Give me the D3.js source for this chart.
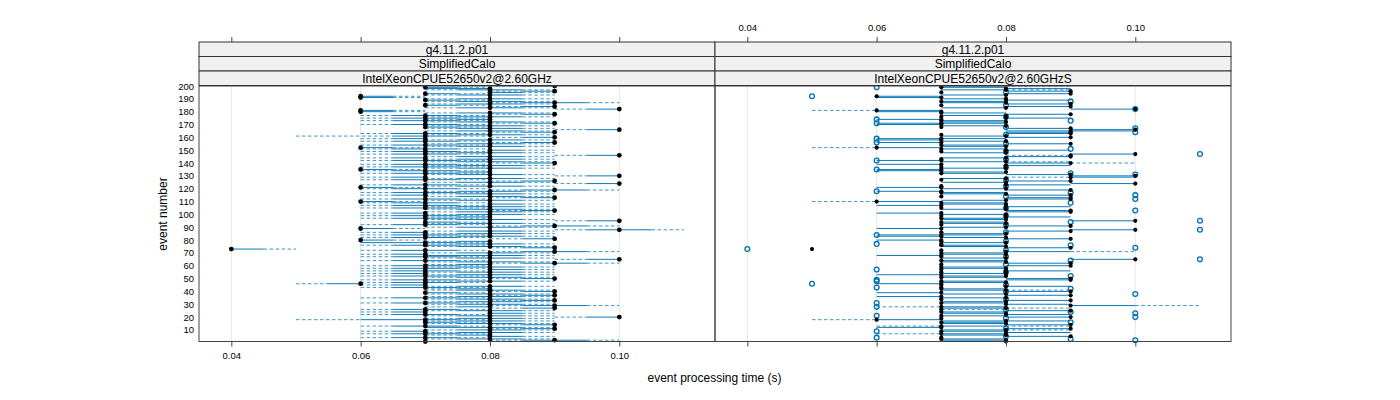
<!DOCTYPE html>
<html><head><meta charset="utf-8">
<script src="https://cdn.jsdelivr.net/npm/d3@7"></script>
<style>body{margin:0;background:#fff}svg{display:block;font-family:"Liberation Sans",Arial,Helvetica,sans-serif}</style>
</head><body><svg id="c" width="1400" height="400"></svg>
<script>
// ---------- data ----------
const stripTop = "g4.11.2.p01";
const stripMid = "SimplifiedCalo";
const panelNames = ["IntelXeonCPUE52650v2@2.60GHz", "IntelXeonCPUE52650v2@2.60GHzS"];
const xTicks = [0.04, 0.06, 0.08, 0.10];
const xTickLabels = ["0.04", "0.06", "0.08", "0.10"];
const yTicks = [10,20,30,40,50,60,70,80,90,100,110,120,130,140,150,160,170,180,190,200];
const xTitle = "event processing time (s)";
const yTitle = "event number";
// per event (1..200), times in ms: [min, lower hinge, median, upper hinge, max]
const leftBox = [
[60,65,70,70,70],[80,85,90,95,100],[70,75,80,85,90],[60,65,70,75,80],[80,80,80,85,90],[70,75,80,80,80],[60,65,70,75,80],[70,75,80,85,90],[60,65,70,70,70],[70,75,80,85,90],
[80,85,90,90,90],[70,70,80,85,90],[60,65,70,75,80],[80,85,90,90,90],[70,75,80,85,90],[70,70,70,75,80],[70,75,80,85,90],[50,60,70,75,80],[70,75,80,85,90],[90,95,100,100,100],
[70,75,80,85,90],[60,65,70,75,80],[80,80,80,85,90],[60,65,70,70,70],[70,75,80,85,90],[60,65,70,75,80],[80,85,90,90,90],[70,75,80,80,80],[80,85,90,95,100],[70,75,80,85,90],
[60,65,70,75,80],[70,75,80,85,90],[80,85,90,90,90],[70,75,80,85,90],[60,65,70,75,80],[70,75,80,85,90],[80,85,90,90,90],[70,75,80,85,90],[70,70,70,75,80],[80,85,90,90,90],
[70,75,80,85,90],[70,75,80,80,80],[60,65,70,75,80],[70,75,80,85,90],[60,65,70,70,70],[50,55,60,60,60],[60,65,70,75,80],[70,75,80,85,90],[60,65,70,75,80],[80,85,90,90,90],
[70,75,80,85,90],[60,65,70,75,80],[70,75,80,85,90],[60,65,70,70,70],[70,75,80,85,90],[60,65,70,75,80],[80,80,80,85,90],[60,65,70,75,80],[70,75,80,85,90],[60,65,70,75,80],
[70,75,80,80,80],[80,85,90,95,100],[70,75,80,85,90],[60,65,70,75,80],[90,95,100,100,100],[70,75,80,85,90],[60,65,70,75,80],[70,70,80,85,90],[60,65,70,70,70],[70,75,80,85,90],
[80,85,90,95,100],[60,65,70,75,80],[40,40,40,45,50],[80,85,90,90,90],[70,75,80,85,90],[60,65,70,75,80],[70,75,80,85,90],[60,60,70,75,80],[70,75,80,80,80],[60,60,60,65,70],
[80,85,90,90,90],[60,65,70,75,80],[70,75,80,85,90],[60,65,70,75,80],[70,75,80,85,90],[60,65,70,70,70],[70,75,80,85,90],[90,95,100,105,110],[60,60,60,65,70],[70,75,80,85,90],
[80,85,90,95,100],[60,65,70,75,80],[70,75,80,85,90],[70,70,70,75,80],[90,95,100,100,100],[70,75,80,85,90],[60,65,70,75,80],[70,75,80,80,80],[60,65,70,75,80],[70,75,80,85,90],
[60,65,70,70,70],[70,75,80,85,90],[80,85,90,90,90],[70,75,80,85,90],[60,65,70,75,80],[70,75,80,85,90],[60,65,70,75,80],[80,80,80,85,90],[60,65,70,75,80],[60,60,60,65,70],
[70,75,80,85,90],[60,65,70,75,80],[80,85,90,90,90],[70,75,80,85,90],[60,65,70,70,70],[70,75,80,85,90],[60,65,70,75,80],[70,75,80,85,90],[80,85,90,95,100],[60,65,70,75,80],
[60,60,60,65,70],[70,75,80,85,90],[60,65,70,75,80],[90,95,100,100,100],[70,75,80,85,90],[80,85,90,90,90],[60,65,70,75,80],[70,75,80,85,90],[60,65,70,70,70],[90,95,100,100,100],
[70,75,80,85,90],[60,65,70,75,80],[70,75,80,80,80],[60,65,70,75,80],[60,60,60,65,70],[70,75,80,85,90],[60,65,70,75,80],[70,75,80,85,90],[60,65,70,75,80],[80,85,90,90,90],
[70,75,80,85,90],[60,65,70,75,80],[70,75,80,85,90],[60,65,70,70,70],[70,75,80,85,90],[90,95,100,100,100],[60,65,70,75,80],[70,75,80,85,90],[60,65,70,75,80],[80,80,80,85,90],
[60,65,70,75,80],[60,60,60,65,70],[70,75,80,85,90],[60,65,70,75,80],[70,75,80,85,90],[80,85,90,90,90],[60,65,70,75,80],[70,75,80,85,90],[60,65,70,70,70],[80,85,90,90,90],
[50,65,70,75,80],[70,75,80,85,90],[60,65,70,75,80],[80,85,90,90,90],[70,75,80,85,90],[90,95,100,100,100],[70,75,80,85,90],[70,70,70,75,80],[70,75,80,85,90],[60,65,70,75,80],
[80,85,90,90,90],[70,75,80,85,90],[60,65,70,75,80],[70,75,80,80,80],[60,65,70,75,80],[70,75,80,85,90],[60,65,70,75,80],[80,85,90,90,90],[70,75,80,85,90],[60,60,60,65,70],
[60,60,60,65,70],[90,95,100,100,100],[70,75,80,85,90],[80,85,90,90,90],[70,70,70,75,80],[70,75,80,85,90],[80,85,90,95,100],[70,75,80,85,90],[70,70,70,75,80],[70,75,80,85,90],
[60,60,60,65,70],[60,60,60,65,70],[70,75,80,85,90],[70,70,70,75,80],[80,80,80,85,90],[80,85,90,90,90],[70,75,80,85,90],[70,70,80,80,80],[70,70,70,75,80],[80,85,90,90,90]
];
const rightBox = [
[80,80,80,90,90],[70,70,80,80,80],[70,70,70,80,80],[70,70,70,70,70],[80,80,90,90,90],[70,70,80,80,80],[60,70,70,80,80],[80,80,80,90,90],[70,70,70,80,80],[70,70,80,80,90],
[80,80,90,90,90],[60,60,70,70,70],[60,70,70,80,90],[80,80,90,90,90],[70,70,80,80,80],[70,70,70,80,80],[70,70,80,90,90],[50,60,60,70,70],[70,70,70,70,70],[80,80,90,90,90],
[70,70,70,80,80],[80,80,80,90,90],[70,70,80,80,80],[70,70,70,80,80],[80,80,90,90,90],[70,70,70,70,80],[70,70,80,80,90],[60,70,70,80,80],[90,90,90,100,110],[80,80,80,90,90],
[70,70,70,80,80],[70,70,80,80,80],[80,80,90,90,90],[70,70,70,70,70],[70,70,80,80,80],[60,60,70,70,70],[80,80,90,90,90],[70,70,80,80,80],[60,60,70,70,70],[80,80,90,90,90],
[70,70,80,80,90],[70,70,70,80,80],[70,70,70,70,70],[80,80,80,90,90],[70,70,70,70,70],[60,60,70,70,70],[70,70,80,80,80],[70,70,70,80,80],[80,80,90,90,90],[80,80,90,90,90],
[70,70,70,80,80],[70,70,80,80,80],[60,60,70,70,70],[70,70,80,80,80],[70,70,70,70,70],[80,80,80,90,90],[70,70,70,70,70],[70,70,80,80,80],[70,70,70,80,80],[80,80,90,90,90],
[70,70,70,70,70],[80,80,90,90,90],[70,70,80,80,80],[70,70,70,80,80],[90,90,100,100,100],[70,70,80,80,80],[70,70,70,70,70],[60,60,70,70,70],[70,70,80,80,80],[70,70,70,80,80],
[80,80,80,90,100],[70,70,70,70,70],[50,50,50,50,50],[80,80,90,90,90],[70,70,80,80,80],[70,70,70,80,80],[70,70,70,70,70],[70,70,80,80,80],[70,70,70,70,70],[60,60,70,70,70],
[80,80,90,90,90],[70,70,80,80,80],[60,60,70,70,70],[60,60,70,80,80],[70,70,80,80,80],[70,70,70,70,70],[80,80,90,90,90],[90,90,100,100,100],[60,60,70,70,70],[70,70,80,80,80],
[80,80,90,90,90],[70,70,70,70,70],[70,70,80,80,80],[70,70,70,80,80],[90,90,100,100,100],[70,70,80,80,80],[70,70,70,80,80],[80,80,80,90,90],[70,70,70,70,70],[70,70,80,80,80],
[60,60,70,70,70],[80,80,90,90,90],[80,80,90,90,90],[70,70,80,80,80],[70,70,70,70,70],[80,80,80,90,90],[60,60,70,70,70],[70,70,80,80,80],[70,70,70,80,80],[50,60,60,70,70],
[70,70,80,80,80],[80,80,90,90,90],[80,80,90,90,90],[70,70,70,70,70],[80,80,90,90,90],[70,70,80,80,80],[70,70,70,80,80],[60,60,70,70,70],[80,80,90,90,90],[70,70,80,80,80],
[60,60,70,70,70],[70,70,70,70,70],[80,80,80,90,90],[90,90,100,100,100],[70,70,80,80,80],[80,80,90,90,90],[70,70,70,70,70],[70,70,80,80,80],[80,90,90,100,100],[90,90,100,100,100],
[80,80,90,90,90],[70,70,70,80,80],[70,70,80,80,80],[60,60,70,70,70],[60,60,70,70,70],[70,70,80,80,80],[70,70,70,70,70],[80,80,80,90,90],[60,60,70,70,70],[80,80,90,90,100],
[70,70,80,80,90],[60,60,70,70,70],[70,70,70,70,70],[70,70,80,80,80],[80,80,90,90,90],[80,90,90,90,90],[90,90,100,100,100],[70,70,80,80,80],[70,70,70,70,70],[80,80,80,90,90],
[70,70,70,80,80],[50,60,60,70,70],[70,70,80,80,80],[70,70,70,80,80],[80,80,90,90,90],[60,60,70,70,70],[70,70,80,80,80],[60,60,70,70,70],[60,60,70,80,80],[80,80,90,90,90],
[70,70,80,80,80],[70,70,70,70,70],[80,80,90,90,90],[80,80,90,90,90],[80,80,90,100,100],[90,90,100,100,100],[80,80,90,90,90],[70,70,70,70,70],[70,70,80,80,80],[60,60,70,70,70],
[60,60,70,80,80],[70,70,80,80,80],[70,70,70,80,80],[60,60,70,70,70],[80,80,80,90,90],[70,70,70,70,70],[70,70,80,80,80],[80,80,90,90,90],[70,70,70,80,80],[60,60,70,70,70],
[50,60,60,70,70],[90,90,100,100,100],[70,70,80,80,80],[80,80,90,90,90],[70,70,70,70,70],[80,80,90,90,90],[70,70,80,80,80],[70,70,70,80,80],[80,80,80,90,90],[70,70,80,80,80],
[60,60,70,70,70],[60,60,60,70,70],[70,70,80,80,80],[80,80,90,90,90],[70,70,70,70,70],[80,80,90,90,90],[70,70,80,80,90],[80,80,80,90,90],[70,70,70,80,80],[70,70,70,80,90]
];
// outlying values in the right panel: [event, ms]
const rightOut = [
[4,60],[9,60],[21,60],[28,60],[31,60],[43,60],[48,60],[49,60],[57,60],[77,60],[84,60],[118,60],[135,60],[142,60],[156,60],[159,60],[171,60],[174,60],[199,60],
[2,100],[20,100],[23,100],[38,100],[74,100],[103,100],[112,100],[115,100],[131,100],[164,100],[167,100],[182,100],
[46,50],[192,50],[73,40],[65,110],[88,110],[95,110],[147,110],
[5,80],[11,80],[19,80],[26,80],[34,80],[40,80],[45,80],[55,80],[61,80],[67,80],[72,80],[79,80],[86,80],[92,80],[99,80],[105,80],[114,80],[122,80],[127,80],[137,80],[143,80],[149,80],[155,80],[162,80],[168,80],[176,80],[185,80],[195,80],
[3,90],[16,90],[24,90],[42,90],[52,90],[64,90],[76,90],[94,90],[109,90],[117,90],[132,90],[151,90],[173,90],[188,90]
];

// ---------- layout ----------
const svg = d3.select("#c");
const panelX = [199, 715], panelW = 516;
const plotTop = 86, plotBottom = 341.5;
const stripY = [42, 56.5, 71, 85.5];
const blue = "#0072B2";
const x = d3.scaleLinear().domain([0.035, 0.1148]).range([0, panelW]);
const y = d3.scaleLinear().domain([1, 200]).range([plotBottom, plotTop]);
const ms = v => v / 1000;

const panels = [
  {name: panelNames[0], box: leftBox, out: [], r: 2.4},
  {name: panelNames[1], box: rightBox, out: rightOut, r: 2.1}
];

panels.forEach((p, pi) => {
  const g = svg.append("g").attr("transform", `translate(${panelX[pi]},0)`);
  g.selectAll("line.grid").data(xTicks).join("line")
    .attr("x1", d => x(d)).attr("x2", d => x(d))
    .attr("y1", plotTop).attr("y2", plotBottom)
    .attr("stroke", "#e6e6e6").attr("stroke-width", 1);
  const rows = p.box.map((b, i) => ({ev: i + 1, lo: b[0], q1: b[1], med: b[2], q3: b[3], hi: b[4]}));
  const segs = [];
  rows.forEach(r => {
    if (r.q1 > r.lo) segs.push({ev: r.ev, a: r.lo, b: r.q1, dash: true});
    if (r.hi > r.q3) segs.push({ev: r.ev, a: r.q3, b: r.hi, dash: true});
    if (r.q3 > r.q1) segs.push({ev: r.ev, a: r.q1, b: r.q3, dash: false});
  });
  g.selectAll("line.seg").data(segs).join("line")
    .attr("x1", d => x(ms(d.a))).attr("x2", d => x(ms(d.b)))
    .attr("y1", d => y(d.ev)).attr("y2", d => y(d.ev))
    .attr("stroke", blue)
    .attr("stroke-width", 1)
    .attr("stroke-opacity", d => d.dash ? 0.75 : 0.95)
    .attr("stroke-dasharray", d => d.dash ? "3.5,2.5" : null);
  g.selectAll("circle.out").data(p.out).join("circle")
    .attr("cx", d => x(ms(d[1]))).attr("cy", d => y(d[0])).attr("r", 2.4)
    .attr("fill", "none").attr("stroke", blue).attr("stroke-width", 1.3);
  g.selectAll("circle.med").data(rows).join("circle")
    .attr("cx", d => x(ms(d.med))).attr("cy", d => y(d.ev)).attr("r", p.r)
    .attr("fill", "#000");
  g.append("rect").attr("x", 0).attr("y", plotTop).attr("width", panelW).attr("height", plotBottom - plotTop)
    .attr("fill", "none").attr("stroke", "#444").attr("stroke-width", 1);
  const stripTexts = [stripTop, stripMid, p.name];
  stripTexts.forEach((t, si) => {
    g.append("rect").attr("x", 0).attr("y", stripY[si]).attr("width", panelW)
      .attr("height", stripY[si + 1] - stripY[si])
      .attr("fill", "#f0f0f0").attr("stroke", "#333").attr("stroke-width", 1);
    g.append("text").attr("x", panelW / 2).attr("y", (stripY[si] + stripY[si + 1]) / 2)
      .attr("dy", "0.36em").attr("text-anchor", "middle")
      .attr("font-size", "12px").attr("fill", "#000").text(t);
  });
  const bAxis = d3.axisBottom(x).tickValues(xTicks).tickSize(5).tickPadding(6)
    .tickFormat((d, i) => pi === 0 ? xTickLabels[i] : "");
  const ba = g.append("g").attr("transform", `translate(0,${plotBottom})`).call(bAxis);
  const tAxis = d3.axisTop(x).tickValues(xTicks).tickSize(5).tickPadding(6)
    .tickFormat((d, i) => pi === 1 ? xTickLabels[i] : "");
  const ta = g.append("g").attr("transform", `translate(0,${stripY[0]})`).call(tAxis);
  [ba, ta].forEach(a => {
    a.select(".domain").remove();
    a.selectAll(".tick line").attr("stroke", "#444");
    a.selectAll(".tick text").attr("font-size", "9.5px").attr("fill", "#000")
      .attr("font-family", '"Liberation Sans",Arial,sans-serif');
  });
  if (pi === 0) {
    const la = g.append("g").call(d3.axisLeft(y).tickValues(yTicks).tickSize(0).tickPadding(5));
    la.select(".domain").remove();
    la.selectAll(".tick text").attr("font-size", "9.5px").attr("fill", "#000")
      .attr("font-family", '"Liberation Sans",Arial,sans-serif');
  }
});

svg.append("text").attr("x", 714.5).attr("y", 378).attr("dy", "0.36em")
  .attr("text-anchor", "middle").attr("font-size", "12px").text(xTitle);
svg.append("text").attr("transform", "translate(163,214) rotate(-90)").attr("dy", "0.36em")
  .attr("text-anchor", "middle").attr("font-size", "12px").text(yTitle);
</script></body></html>
